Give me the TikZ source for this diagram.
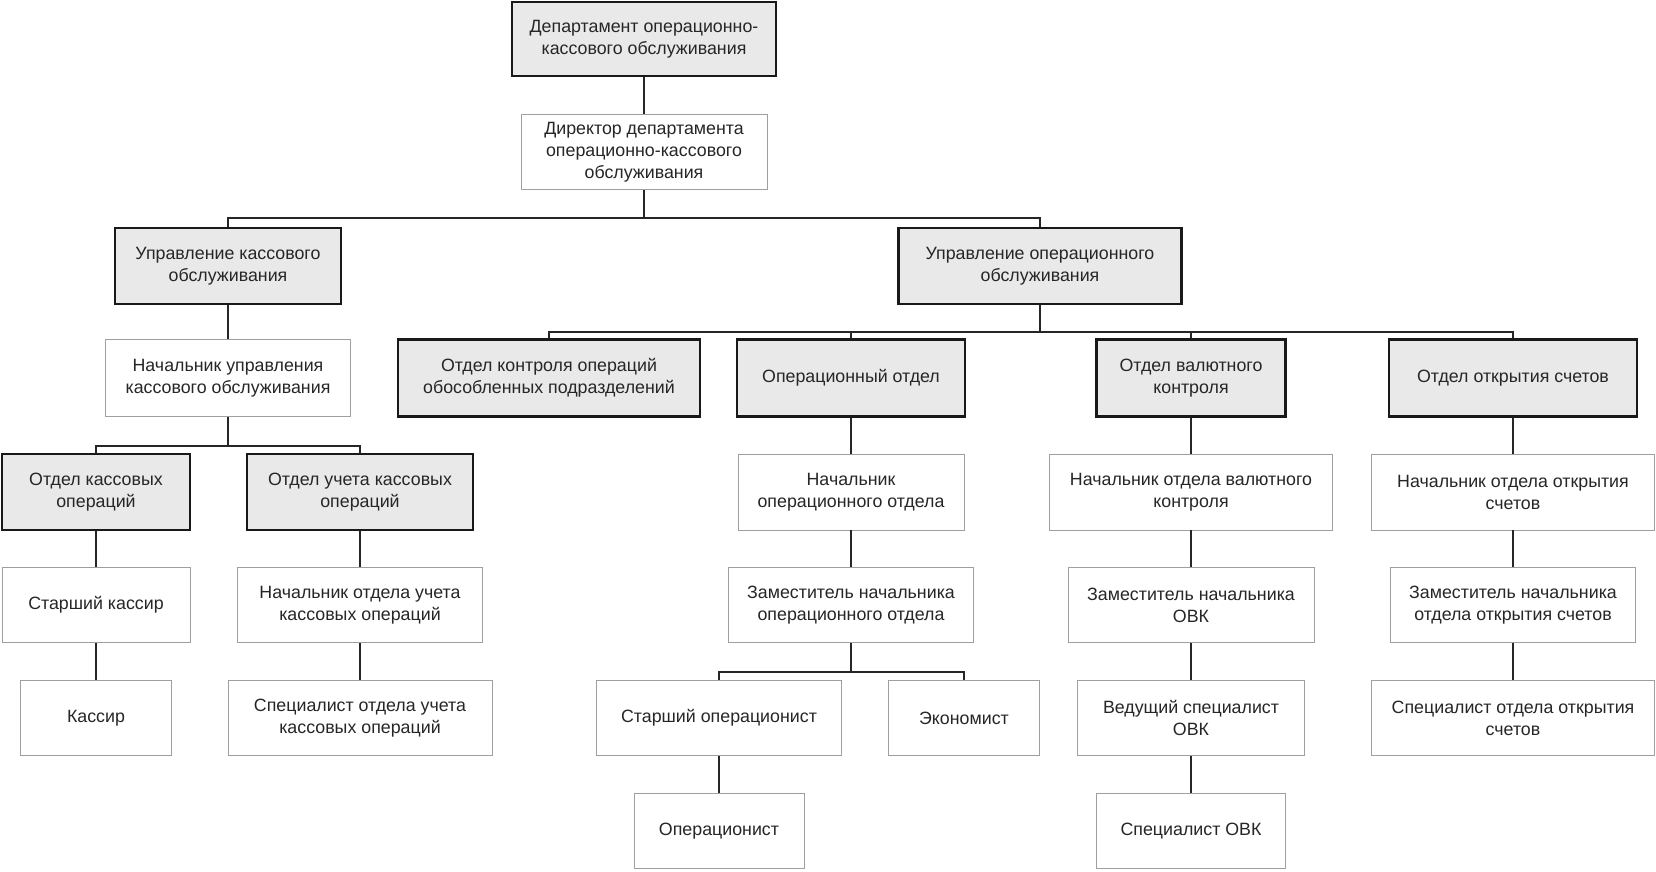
\documentclass[tikz,border=0pt]{standalone}
\usepackage{fontspec}
\setmainfont{Liberation Sans}
\usetikzlibrary{positioning}

\tikzset{
	box/.style={draw=gray!75, line width=0.9pt, fill=white, align=center, inner sep=0pt,
		text=black!85, font=\fontsize{17.8}{22}\selectfont},
	headbox/.style={box, draw=black!90, line width=2.3pt, fill=gray!17},
	link/.style={draw=black!85, line width=1.4pt}
}

\begin{document}
\begin{tikzpicture}[x=1pt,y=-1pt]
	\useasboundingbox (0,0) rectangle (1656,871);
	
	% top
	\node[headbox, minimum width=264, minimum height=74] (dept) at (644,39) {Департамент операционно-\\кассового обслуживания};
	\node[box, minimum width=246, minimum height=75] (dir) at (644,152) {Директор департамента\\операционно-кассового\\обслуживания};
	
	% managements
	\node[headbox, minimum width=226, minimum height=76] (uk) at (228,266) {Управление кассового\\обслуживания};
	\node[headbox, minimum width=283, minimum height=76] (uo) at (1040,266) {Управление операционного\\обслуживания};
	
	% cash branch
	\node[box, minimum width=245, minimum height=77] (nuk) at (228,378) {Начальник управления\\кассового обслуживания};
	\node[headbox, minimum width=188, minimum height=76] (oko) at (96,492) {Отдел кассовых\\операций};
	\node[headbox, minimum width=226, minimum height=76] (ouko) at (360,492) {Отдел учета кассовых\\операций};
	\node[box, minimum width=188, minimum height=75] (sk) at (96,605) {Старший кассир};
	\node[box, minimum width=245, minimum height=75] (nouko) at (360,605) {Начальник отдела учета\\кассовых операций};
	\node[box, minimum width=151, minimum height=75] (kas) at (96,718) {Кассир};
	\node[box, minimum width=264, minimum height=75] (souko) at (360,718) {Специалист отдела учета\\кассовых операций};
	
	% operational branch
	\node[headbox, minimum width=302, minimum height=77] (otk) at (549,378) {Отдел контроля операций\\обособленных подразделений};
	\node[headbox, minimum width=228, minimum height=77] (opo) at (851,378) {Операционный отдел};
	\node[headbox, minimum width=189, minimum height=77] (ovk) at (1191,378) {Отдел валютного\\контроля};
	\node[headbox, minimum width=248, minimum height=77] (oos) at (1513,378) {Отдел открытия счетов};
	
	\node[box, minimum width=226, minimum height=76] (noo) at (851,492) {Начальник\\операционного отдела};
	\node[box, minimum width=245, minimum height=75] (znoo) at (851,605) {Заместитель начальника\\операционного отдела};
	\node[box, minimum width=245, minimum height=75] (sop) at (719,718) {Старший операционист};
	\node[box, minimum width=151, minimum height=75] (eko) at (964,718) {Экономист};
	\node[box, minimum width=170, minimum height=75] (op) at (719,831) {Операционист};
	
	\node[box, minimum width=283, minimum height=76] (novk) at (1191,492) {Начальник отдела валютного\\контроля};
	\node[box, minimum width=246, minimum height=75] (zovk) at (1191,605) {Заместитель начальника\\ОВК};
	\node[box, minimum width=227, minimum height=75] (vsovk) at (1191,718) {Ведущий специалист\\ОВК};
	\node[box, minimum width=189, minimum height=75] (sovk) at (1191,831) {Специалист ОВК};
	
	\node[box, minimum width=283, minimum height=76] (noos) at (1513,492) {Начальник отдела открытия\\счетов};
	\node[box, minimum width=245, minimum height=75] (znoos) at (1513,605) {Заместитель начальника\\отдела открытия счетов};
	\node[box, minimum width=283, minimum height=75] (soos) at (1513,718) {Специалист отдела открытия\\счетов};
	
	% connectors
	\coordinate (b1) at (644,218);
	\coordinate (b2) at (1040,332);
	\coordinate (b3) at (228,446);
	\coordinate (b4) at (851,672);
	
	\draw[link] (dept) -- (dir);
	\draw[link] (dir) -- (b1) -| (uk);
	\draw[link] (b1) -| (uo);
	
	\draw[link] (uk) -- (nuk);
	\draw[link] (nuk) -- (b3) -| (oko);
	\draw[link] (b3) -| (ouko);
	\draw[link] (oko) -- (sk);
	\draw[link] (sk) -- (kas);
	\draw[link] (ouko) -- (nouko);
	\draw[link] (nouko) -- (souko);
	
	\draw[link] (uo) -- (b2) -| (otk);
	\draw[link] (b2) -| (opo);
	\draw[link] (b2) -| (ovk);
	\draw[link] (b2) -| (oos);
	
	\draw[link] (opo) -- (noo);
	\draw[link] (noo) -- (znoo);
	\draw[link] (znoo) -- (b4) -| (sop);
	\draw[link] (b4) -| (eko);
	\draw[link] (sop) -- (op);
	
	\draw[link] (ovk) -- (novk);
	\draw[link] (novk) -- (zovk);
	\draw[link] (zovk) -- (vsovk);
	\draw[link] (vsovk) -- (sovk);
	
	\draw[link] (oos) -- (noos);
	\draw[link] (noos) -- (znoos);
	\draw[link] (znoos) -- (soos);
\end{tikzpicture}
\end{document}
